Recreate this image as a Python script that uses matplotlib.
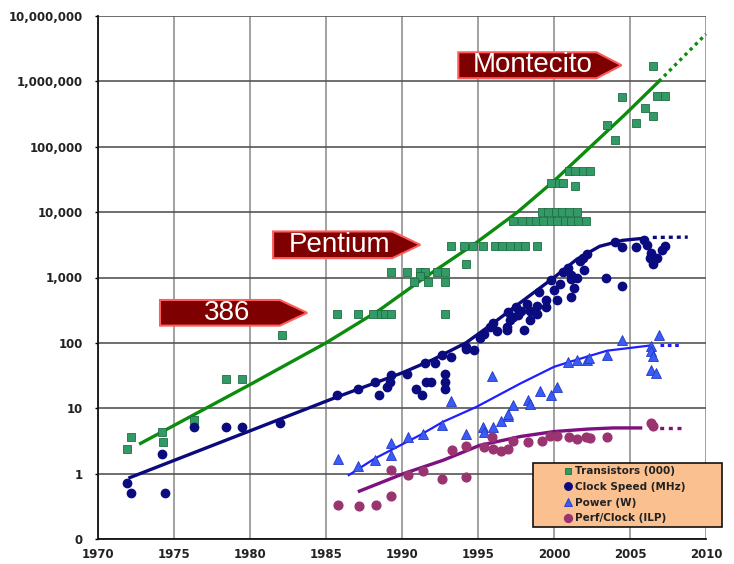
import matplotlib
matplotlib.use("Agg")
import matplotlib.pyplot as plt
from matplotlib.patches import Polygon, Rectangle

# ---- data ----
transistor_years = [
    1971.9, 1972.2, 1974.2, 1974.3, 1976.3, 1978.4, 1979.5, 1982.1,
    1985.7, 1987.1, 1988.1, 1988.6, 1988.9, 1989.3, 1992.8,
    1989.3, 1990.3, 1991.2, 1991.5, 1992.3, 1992.8, 1991.2,
    1990.8, 1991.7, 1992.8, 1994.2,
    1993.2, 1994.1, 1994.7, 1995.3, 1996.1, 1996.6, 1997.1, 1997.6, 1998.1, 1998.9,
    1997.3, 1997.9, 1998.4, 1998.8, 1999.3, 1999.8, 2000.2, 2000.7, 2001.1, 2001.6, 2002.1,
    1999.2, 1999.6, 2000.1, 2000.5, 2001.0, 2001.5,
    1999.8, 2000.3, 2000.6, 2001.4,
    2001.0, 2001.4, 2001.9, 2002.4,
    2003.5, 2004.0, 2004.5, 2005.4, 2006.0, 2006.5, 2006.8, 2007.3, 2006.5,
]
transistor_vals = [
    2.35, 3.6, 4.4, 3.1, 6.5, 28.5, 28.5, 134,
    281, 281, 281, 281, 281, 281, 281,
    1220, 1220, 1220, 1220, 1220, 1220, 1050,
    860, 860, 860, 1600,
    3020, 3020, 3020, 3020, 3020, 3020, 3020, 3020, 3020, 3020,
    7350, 7350, 7350, 7350, 7350, 7350, 7350, 7350, 7350, 7350, 7350,
    9900, 9900, 9900, 9900, 9900, 9900,
    27500, 27500, 27500, 25500,
    42400, 42400, 42400, 42400,
    215000, 125000, 575000, 233000, 386000, 298000, 590000, 590000, 1740000,
]

clock_years = [
    1971.9, 1972.2, 1974.4, 1974.2, 1976.3, 1978.4, 1979.5, 1982.0,
    1985.7, 1987.1, 1988.2, 1988.5, 1989.0, 1989.2, 1989.3, 1990.3,
    1990.9, 1991.3, 1991.6, 1991.9, 1991.5, 1992.2, 1992.6, 1992.8,
    1992.8, 1992.8, 1993.2, 1994.2, 1994.2, 1994.75, 1995.1, 1995.4,
    1995.8, 1996.0, 1996.25, 1996.9, 1997.1, 1997.6, 1996.9, 1998.0,
    1997.3, 1998.4, 1998.9, 1999.5, 2000.0, 2000.4, 2001.1, 2001.3,
    2001.1, 2001.5, 2000.9, 2001.7, 2002.0, 2002.2, 2001.1, 2000.2,
    1998.9, 1999.5, 1997.8, 1998.4, 1998.2, 1999.0, 1999.8, 2000.6,
    2001.9, 1997.0, 1997.5,
    2003.4, 2004.5, 2004.0, 2004.5, 2005.4, 2005.9, 2006.1, 2006.4,
    2006.5, 2006.8, 2007.1, 2007.3, 2006.3, 2006.5,
]
clock_vals = [
    0.73, 0.51, 0.51, 2.0, 5.1, 5.1, 5.1, 6.0,
    16, 20, 25, 16, 21, 25, 32, 33,
    20, 16, 25, 25, 50, 50, 65, 33,
    25, 20, 61, 87, 80, 78, 120, 135,
    175, 200, 150, 175, 220, 265, 160, 160,
    250, 310, 370, 450, 640, 800, 500, 700,
    1100, 1000, 1400, 1800, 1300, 2300, 950, 450,
    280, 350, 310, 220, 400, 600, 900, 1200,
    2000, 300, 350,
    1000, 750, 3500, 2900, 2900, 3700, 3100, 2400,
    1600, 2000, 2600, 3000, 2000, 1800,
]

power_years = [
    1985.8, 1987.1, 1988.2, 1989.3, 1989.3, 1990.4, 1991.4, 1992.6,
    1993.2, 1994.2, 1995.3, 1995.4, 1995.9, 1996.0, 1996.5, 1997.0,
    1997.0, 1997.3, 1998.3, 1998.4, 1999.1, 1999.8, 2000.2, 2000.9,
    2001.5, 2002.2, 2002.3, 2003.5, 2004.5, 2006.4, 2006.4, 2006.5,
    2006.4, 2006.7, 2006.9,
]
power_vals = [
    1.7, 1.3, 1.6, 2.95, 1.95, 3.6, 4.0, 5.6,
    12.8, 4.0, 5.2, 4.3, 31, 5.1, 6.3, 7.5,
    8.3, 11.3, 13.5, 11.5, 18.5, 15.8, 21, 51,
    55, 55, 58, 65, 112, 90, 75, 62,
    39, 35, 130,
]

ilp_years = [
    1985.8, 1987.2, 1988.3, 1989.3, 1989.3, 1990.4, 1991.4, 1992.6,
    1993.3, 1994.2, 1994.2, 1995.4, 1995.9, 1996.0, 1996.5, 1997.0,
    1997.3, 1998.3, 1999.2, 1999.75, 2000.2, 2001.0, 2001.5, 2002.1,
    2002.4, 2003.5, 2006.4, 2006.5,
]
ilp_vals = [
    0.335, 0.32, 0.335, 0.45, 1.12, 0.95, 1.1, 0.84,
    2.3, 2.6, 0.9, 2.55, 3.6, 2.4, 2.2, 2.4,
    3.2, 3.0, 3.2, 3.8, 3.8, 3.6, 3.4, 3.6,
    3.5, 3.6, 6.0, 5.3,
]

# trend lines (solid part, then dotted extension)
transistor_fit_x = [1972.8, 1980.0, 1985.0, 1988.5, 1991.5, 1994.8, 1997.6,
                    2000.0, 2002.4, 2004.7, 2006.9]
transistor_fit_y = [2.9, 23, 100, 316, 1000, 3300, 10000, 30000, 100000,
                    316000, 1000000]
transistor_ext_x = [2006.9, 2010.0]
transistor_ext_y = [1000000, 5300000]

clock_fit_x = [1972.1, 1985.7, 1990.0, 1992.0, 1994.2, 1996.0, 1998.0,
               2000.0, 2001.5, 2003.0, 2004.5, 2006.0]
clock_fit_y = [0.87, 14.8, 34.7, 55, 100, 200, 450, 1000, 1900, 3000,
               3700, 4000]
clock_ext_x = [2006.5, 2008.8]
clock_ext_y = [4100, 4150]

power_fit_x = [1986.5, 1988.2, 1991.2, 1992.7, 1994.9, 1997.8, 2000.0,
               2001.0, 2003.5, 2006.3]
power_fit_y = [0.95, 1.7, 3.9, 6.2, 10.5, 24, 43, 51, 76, 91]
power_ext_x = [2007.0, 2008.4]
power_ext_y = [94, 94]

ilp_fit_x = [1987.2, 1990.1, 1992.7, 1995.1, 1997.8, 2000.0, 2002.2,
             2003.9, 2005.7]
ilp_fit_y = [0.54, 1.0, 1.6, 2.7, 3.7, 4.4, 4.8, 5.0, 5.0]
ilp_ext_x = [2006.4, 2008.4]
ilp_ext_y = [5.0, 5.0]

year_ticks = [1970, 1975, 1980, 1985, 1990, 1995, 2000, 2005, 2010]
value_ticks = [0.1, 1, 10, 100, 1e3, 1e4, 1e5, 1e6, 1e7]
value_labels = ["0", "1", "10", "100", "1,000", "10,000", "100,000",
                "1,000,000", "10,000,000"]

callouts = ["386", "Pentium", "Montecito"]

# ---- figure ----
fig = plt.figure(figsize=(7.34, 5.64), dpi=100)
ax = fig.add_axes([98 / 734, 25 / 564, 608 / 734, 523 / 564])
ax.set_yscale("log")
ax.set_xlim(1970, 2010)
ax.set_ylim(0.1, 1e7)

ax.set_xticks(year_ticks)
ax.set_yticks(value_ticks)
ax.set_yticklabels(value_labels)
ax.minorticks_off()
ax.tick_params(axis="y", length=2.5, width=1, pad=8.5, labelsize=8.5, labelcolor="#222222")
ax.tick_params(axis="x", length=0, pad=6.5, labelsize=8.5, labelcolor="#222222")
for lbl in ax.get_xticklabels() + ax.get_yticklabels():
    lbl.set_fontweight("bold")

ax.xaxis.grid(True, color="#9a9a9a", linewidth=1.3)
ax.yaxis.grid(True, color="#555555", linewidth=1.2)
ax.set_axisbelow(True)
for side in ["top", "right"]:
    ax.spines[side].set_visible(False)
for side in ["left", "bottom"]:
    ax.spines[side].set_linewidth(1.3)
    ax.spines[side].set_color("#111111")

# trend lines
ax.plot(transistor_fit_x, transistor_fit_y, color="#0c8c0c", lw=2.4, zorder=3)
ax.plot(transistor_ext_x, transistor_ext_y, color="#0c8c0c", lw=2.4,
        linestyle=(0, (1, 1.2)), zorder=3, clip_on=False)
ax.plot(clock_fit_x, clock_fit_y, color="#0a0a7e", lw=2.4, zorder=3)
ax.plot(clock_ext_x, clock_ext_y, color="#0a0a7e", lw=2.4,
        linestyle=(0, (1.2, 1.2)), zorder=3)
ax.plot(power_fit_x, power_fit_y, color="#1f1fff", lw=1.6, zorder=3)
ax.plot(power_ext_x, power_ext_y, color="#1f1fff", lw=2.2,
        linestyle=(0, (1.2, 1.2)), zorder=3)
ax.plot(ilp_fit_x, ilp_fit_y, color="#7f107f", lw=2.4, zorder=3)
ax.plot(ilp_ext_x, ilp_ext_y, color="#7f107f", lw=2.4,
        linestyle=(0, (1.2, 1.4)), zorder=3)

# scatter series
h1, = ax.plot(transistor_years, transistor_vals, linestyle="none", marker="s",
              ms=5.2, mfc="#339966", mec="#1d7040", mew=0.6, zorder=4,
              label="Transistors (000)")
h2, = ax.plot(clock_years, clock_vals, linestyle="none", marker="o",
              ms=6, mfc="#0b0b80", mec="#0b0b80", zorder=4,
              label="Clock Speed (MHz)")
h3, = ax.plot(power_years, power_vals, linestyle="none", marker="^",
              ms=6.5, mfc="#3a5cf5", mec="#2238c8", mew=0.6, zorder=4,
              label="Power (W)")
h4, = ax.plot(ilp_years, ilp_vals, linestyle="none", marker="o",
              ms=6.3, mfc="#9a3470", mec="#9a3470", zorder=4,
              label="Perf/Clock (ILP)")

# legend box
ax.add_patch(Rectangle((0.715, 0.0224), 0.312, 0.1223, transform=ax.transAxes,
                       facecolor="#fac090", edgecolor="#111111", lw=1.2,
                       clip_on=False, zorder=6))
leg = ax.legend(handles=[h1, h2, h3, h4], loc="upper left",
                bbox_to_anchor=(0.766, 0.139), frameon=False, borderpad=0,
                borderaxespad=0, handlelength=0.8, handletextpad=0.3,
                labelspacing=0.55, markerscale=0.9,
                prop={"size": 7.5, "weight": "bold"})
leg.set_zorder(7)
for t in leg.get_texts():
    t.set_color("#222222")

# callout arrows (axes fraction): left, rect end, tip, bottom, top
shapes = [
    (0.102, 0.299, 0.344, 0.408, 0.457, 0.2117),
    (0.288, 0.484, 0.530, 0.537, 0.588, 0.397),
    (0.5926, 0.820, 0.861, 0.881, 0.9306, 0.7146),
]
for label, (x0, x1, tip, y0, y1, tx) in zip(callouts, shapes):
    ym = (y0 + y1) / 2
    ax.add_patch(Polygon([(x0, y0), (x1, y0), (tip, ym), (x1, y1), (x0, y1)],
                         closed=True, transform=ax.transAxes,
                         facecolor="#7f0000", edgecolor="#ff5c5c", lw=1.5,
                         zorder=8))
    ax.text(tx, ym, label, transform=ax.transAxes, ha="center", va="center",
            color="white", fontsize=20, family="Liberation Sans", zorder=9)

fig.savefig("out.png", dpi=100)
